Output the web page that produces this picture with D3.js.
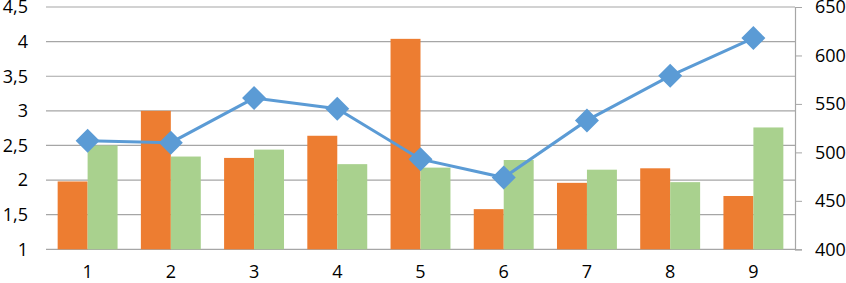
<!DOCTYPE html>
<html>
<head>
<meta charset="utf-8">
<script src="https://cdn.jsdelivr.net/npm/d3@7"></script>
<style>
  body { margin: 0; background: #fff; }
  text { font-family: "Open Sans", sans-serif; font-size: 18px; fill: #000; }
</style>
</head>
<body>
<div id="chart"></div>
<script>
// Chart data
const categories = ["1", "2", "3", "4", "5", "6", "7", "8", "9"];
const orangeValues = [1.98, 3.0, 2.32, 2.64, 4.04, 1.58, 1.96, 2.17, 1.77];
const greenValues = [2.5, 2.34, 2.44, 2.23, 2.18, 2.29, 2.15, 1.97, 2.76];
const lineValues = [512, 510, 556, 545, 493, 474, 533, 579, 618];
const leftTicks = [1, 1.5, 2, 2.5, 3, 3.5, 4, 4.5];
const rightTicks = [400, 450, 500, 550, 600, 650];

const width = 846, height = 283;
const plotLeft = 46, plotRight = 795, plotTop = 7, plotBottom = 249.3;

const svg = d3.select("#chart")
    .append("svg")
    .attr("width", width)
    .attr("height", height);

const x = d3.scaleBand()
    .domain(categories)
    .range([plotLeft, plotRight])
    .paddingInner(0.28)
    .paddingOuter(0.14);

const xSub = d3.scaleBand()
    .domain(["orange", "green"])
    .range([0, x.bandwidth()]);

const yLeft = d3.scaleLinear().domain([1, 4.5]).range([plotBottom, plotTop]);
const yRight = d3.scaleLinear().domain([400, 650]).range([plotBottom, plotTop]);

const commaFmt = v => d3.format("")(v).replace(".", ",");

// gridlines
svg.append("g")
    .selectAll("line")
    .data(leftTicks)
    .join("line")
    .attr("x1", plotLeft)
    .attr("x2", plotRight)
    .attr("y1", d => yLeft(d))
    .attr("y2", d => yLeft(d))
    .attr("stroke", "#a6a6a6")
    .attr("stroke-width", 1.2);

// left axis labels
svg.append("g")
    .selectAll("text")
    .data(leftTicks)
    .join("text")
    .attr("x", 28)
    .attr("y", d => yLeft(d))
    .attr("dy", "0.35em")
    .attr("text-anchor", "end")
    .text(d => commaFmt(d));

// right axis
const rightAxis = svg.append("g")
    .attr("transform", `translate(${plotRight},0)`)
    .call(d3.axisRight(yRight).tickValues(rightTicks).tickSize(7).tickPadding(13));
rightAxis.select(".domain").attr("stroke", "#a6a6a6").attr("stroke-width", 1.2);
rightAxis.selectAll(".tick line").attr("stroke", "#a6a6a6");
rightAxis.selectAll(".tick text")
    .style("font-family", "'Open Sans', sans-serif")
    .style("font-size", "18px")
    .attr("fill", "#000");

// bars
const series = [
    { key: "orange", values: orangeValues, color: "#ed7d31" },
    { key: "green", values: greenValues, color: "#a9d18e" }
];

series.forEach(s => {
    svg.append("g")
        .selectAll("rect")
        .data(categories)
        .join("rect")
        .attr("x", (c) => x(c) + xSub(s.key))
        .attr("width", xSub.bandwidth())
        .attr("y", (c, i) => yLeft(s.values[i]))
        .attr("height", (c, i) => yLeft(1) - yLeft(s.values[i]))
        .attr("fill", s.color);
});

// x labels
svg.append("g")
    .selectAll("text")
    .data(categories)
    .join("text")
    .attr("x", c => x(c) + x.bandwidth() / 2)
    .attr("y", 278)
    .attr("text-anchor", "middle")
    .text(c => c);

// line series
const pts = categories.map((c, i) => [x(c) + x.bandwidth() / 2, yRight(lineValues[i])]);

svg.append("path")
    .datum(pts)
    .attr("fill", "none")
    .attr("stroke", "#5b9bd5")
    .attr("stroke-width", 3)
    .attr("d", d3.line());

svg.append("g")
    .selectAll("path")
    .data(pts)
    .join("path")
    .attr("transform", d => `translate(${d[0]},${d[1]})`)
    .attr("d", "M0,-12L12,0L0,12L-12,0Z")
    .attr("fill", "#5b9bd5");
</script>
</body>
</html>
